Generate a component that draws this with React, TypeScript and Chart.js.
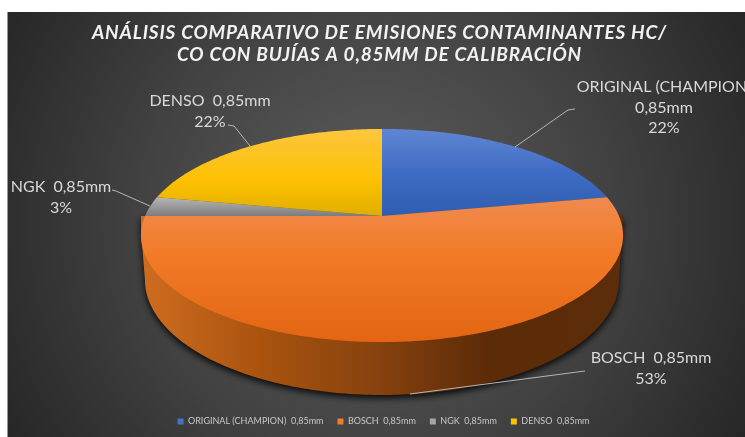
import React, { useEffect, useRef } from "react";
import { Chart, registerables } from "chart.js";

Chart.register(...registerables);

const categories = [
  "ORIGINAL (CHAMPION)  0,85mm",
  "BOSCH  0,85mm",
  "NGK  0,85mm",
  "DENSO  0,85mm",
];
const shareValues = [22, 53, 3, 22];
const sliceColors = ["#4472C4", "#ED7D31", "#A5A5A5", "#FFC000"];
const titleLines = [
  "ANÁLISIS COMPARATIVO DE EMISIONES CONTAMINANTES HC/",
  "CO CON BUJÍAS A 0,85MM DE CALIBRACIÓN",
];

const FONT = "Lato, 'Open Sans', sans-serif";
const TOP = { cx: 382, cy: 216, a: 237, b: 103, k: 0.183 };
const BOTTOM = { cx: 382, cy: 280, rx: 237, ry: 115 };

const faceStops: [number, string][][] = [
  [[0, "#5f86d2"], [0.5, "#3f6cc4"], [1, "#2e5db0"]],
  [[0, "#f08a4e"], [0.4, "#f27b28"], [1, "#e36512"]],
  [[0, "#b8b8b8"], [1, "#7c7c7c"]],
  [[0, "#fdc63f"], [0.6, "#fdc000"], [1, "#e0ae00"]],
];
const faceRange: [number, number][] = [
  [129, 216],
  [197, 342],
  [197, 216],
  [129, 216],
];

const calloutLayout = [
  { lines: 3, x: 664, y: 87, leader: [[515, 147], [568, 110], [575, 109]] },
  { lines: 2, x: 651, y: 358, leader: [[410, 394], [585, 371]] },
  { lines: 2, x: 61, y: 187, leader: [[150, 206], [116, 191], [112, 190]] },
  { lines: 2, x: 210, y: 101, leader: [[250, 146], [234, 126], [228, 125]] },
];

function project(angle: number) {
  const u = Math.cos(angle);
  const v = Math.sin(angle);
  const w = 1 - TOP.k * v;
  return { x: TOP.cx + (TOP.a * u) / w, y: TOP.cy + (TOP.b * v) / w };
}

const pie3d = {
  id: "pie3d",
  afterLayout(chart: any) {
    chart.legend.left += 4;
    chart.legend.right += 4;
    const block = chart.titleBlock;
    if (!block._spaced) {
      const original = block.draw.bind(block);
      block.draw = () => {
        chart.ctx.save();
        chart.ctx.letterSpacing = "0.8px";
        original();
        chart.ctx.restore();
      };
      block._spaced = true;
    }
  },
  beforeDraw(chart: any) {
    const { ctx, width, height } = chart;
    ctx.save();
    ctx.fillStyle = "#ffffff";
    ctx.fillRect(0, 0, width, height);
    const g = ctx.createRadialGradient(375, 222, 10, 375, 222, 430);
    g.addColorStop(0, "#5c5c5c");
    g.addColorStop(0.55, "#414141");
    g.addColorStop(1, "#262626");
    ctx.fillStyle = g;
    ctx.fillRect(7.5, 12, width - 7.5, height - 12);
    ctx.restore();
  },
  beforeDatasetDraw(chart: any) {
    const { ctx } = chart;
    const arcs = chart.getDatasetMeta(0).data;
    ctx.save();

    // side wall and its shadow
    const wall = new Path2D();
    const n = 180;
    for (let i = 0; i <= n; i++) {
      const t = (Math.PI * i) / n;
      const x = BOTTOM.cx + BOTTOM.rx * Math.cos(t);
      const y = BOTTOM.cy + BOTTOM.ry * Math.sin(t);
      if (i === 0) wall.moveTo(x, y);
      else wall.lineTo(x, y);
    }
    wall.lineTo(141, 232);
    wall.lineTo(141, 216);
    wall.lineTo(623, 216);
    wall.closePath();
    const side = ctx.createLinearGradient(141, 0, 623, 0);
    side.addColorStop(0, "#cf6d20");
    side.addColorStop(0.25, "#a9530f");
    side.addColorStop(0.5, "#85410e");
    side.addColorStop(0.72, "#5c2b08");
    side.addColorStop(1, "#5c2d0a");
    ctx.save();
    ctx.shadowColor = "rgba(0,0,0,0.9)";
    ctx.shadowBlur = 7;
    ctx.shadowOffsetY = 3;
    ctx.fillStyle = side;
    ctx.fill(wall);
    ctx.restore();

    // top faces
    arcs.forEach((arc: any, i: number) => {
      const { startAngle, endAngle } = arc.getProps(["startAngle", "endAngle"]);
      ctx.beginPath();
      ctx.moveTo(TOP.cx, TOP.cy);
      const steps = Math.max(8, Math.ceil((endAngle - startAngle) * 60));
      for (let s = 0; s <= steps; s++) {
        const p = project(startAngle + ((endAngle - startAngle) * s) / steps);
        ctx.lineTo(p.x, p.y);
      }
      ctx.closePath();
      const grad = ctx.createLinearGradient(0, faceRange[i][0], 0, faceRange[i][1]);
      faceStops[i].forEach(([o, c]) => grad.addColorStop(o, c));
      ctx.fillStyle = grad;
      ctx.fill();
    });

    ctx.restore();
    return false;
  },
  afterDatasetsDraw(chart: any) {
    const { ctx } = chart;
    const values = chart.data.datasets[0].data as number[];
    const total = values.reduce((s, v) => s + v, 0);
    ctx.save();
    ctx.fillStyle = "#d9d9d9";
    ctx.strokeStyle = "#b5b5b5";
    ctx.lineWidth = 1;
    ctx.textAlign = "center";
    ctx.textBaseline = "middle";
    ctx.font = `16px ${FONT}`;
    chart.data.labels.forEach((label: string, i: number) => {
      const box = calloutLayout[i];
      ctx.beginPath();
      box.leader.forEach(([x, y], j) => (j ? ctx.lineTo(x, y) : ctx.moveTo(x, y)));
      ctx.stroke();
      const pct = `${Math.round((values[i] / total) * 100)}%`;
      const idx = label.lastIndexOf("  ");
      const lines =
        box.lines === 3
          ? [label.slice(0, idx), label.slice(idx + 2), pct]
          : [label, pct];
      lines.forEach((t, j) => ctx.fillText(t, box.x, box.y + j * 20.5));
    });
    ctx.restore();
  },
};

export default function App() {
  const ref = useRef<HTMLCanvasElement | null>(null);
  useEffect(() => {
    document.body.style.margin = "0";
    const chart = new Chart(ref.current!, {
      type: "pie",
      data: {
        labels: categories,
        datasets: [{ data: shareValues, backgroundColor: sliceColors, borderWidth: 0 }],
      },
      options: {
        responsive: false,
        animation: false,
        layout: { padding: { left: 14, top: 22, bottom: 1 } },
        plugins: {
          tooltip: { enabled: false },
          title: {
            display: true,
            text: titleLines,
            color: "#f2f2f2",
            font: { family: FONT, size: 19, weight: "bold", style: "italic", lineHeight: 1.17 },
            padding: { top: 0, bottom: 10 },
          },
          legend: {
            position: "bottom",
            labels: {
              color: "#c8c8c8",
              font: { family: FONT, size: 9 },
              boxWidth: 6,
              boxHeight: 6,
              padding: 14,
            },
          },
        },
      },
      plugins: [pie3d],
    });
    return () => chart.destroy();
  }, []);
  return (
    <div style={{ width: 745, height: 437 }}>
      <canvas ref={ref} width={745} height={437} style={{ display: "block" }} />
    </div>
  );
}
